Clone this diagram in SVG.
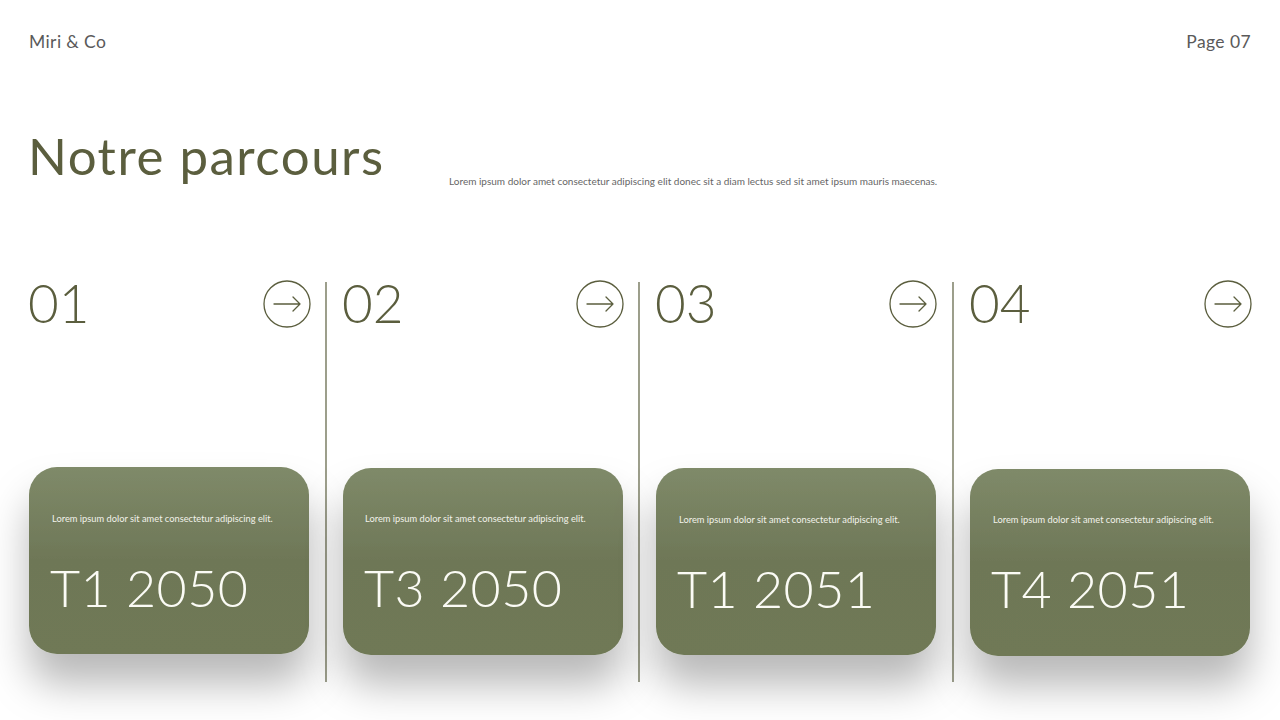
<svg xmlns="http://www.w3.org/2000/svg" width="1280" height="720" viewBox="0 0 1280 720">
<defs>
<style>
text{font-family:"Lato","Open Sans","Liberation Sans",sans-serif}
.hdr{font-size:17.5px;fill:#5a5a5a;font-weight:400;letter-spacing:0.4px}
.title{font-size:51px;fill:#5b5e3e;font-weight:400;letter-spacing:1.5px}
.sub{font-size:10px;fill:#666666}
.num{font-size:53px;fill:#5b5e3e;font-weight:300}
.small{font-size:9.3px;fill:#f2f2ea}
.big{font-size:52px;fill:#fbfbf5;font-weight:300;letter-spacing:0.5px}
.card{fill:url(#g)}
.ring{fill:none;stroke:#5b5e3e;stroke-width:1.3}
.arr{fill:none;stroke:#5b5e3e;stroke-width:1.3;stroke-linecap:round;stroke-linejoin:round}
.div{stroke:#5b5e3e;stroke-width:1.2}
</style>
<linearGradient id="g" x1="0" y1="0" x2="0" y2="1">
<stop offset="0" stop-color="#7f8a69"/>
<stop offset="0.5" stop-color="#6e7757"/>
<stop offset="1" stop-color="#6f7957"/>
</linearGradient>
<filter id="sh" x="-30%" y="-30%" width="160%" height="180%">
<feDropShadow dx="0" dy="30" stdDeviation="20" flood-color="#000" flood-opacity="0.28"/>
</filter>
</defs>
<rect width="1280" height="720" fill="#ffffff"/>
<text class="hdr" x="29" y="48">Miri &amp; Co</text>
<text class="hdr" x="1251" y="48" text-anchor="end">Page 07</text>
<text class="title" x="28" y="175">Notre parcours</text>
<text class="sub" x="449" y="185">Lorem ipsum dolor amet consectetur adipiscing elit donec  sit a diam lectus sed sit amet ipsum mauris maecenas.</text>
<g id="connectors">
<line class="div" x1="326" y1="282" x2="326" y2="682"/>
<line class="div" x1="639" y1="282" x2="639" y2="682"/>
<line class="div" x1="953" y1="282" x2="953" y2="682"/>
</g>
<g id="step1">
<text class="num" x="28" y="323">01</text>
<circle class="ring" cx="287" cy="304" r="23"/>
<path class="arr" d="M274 304H300M293 297L300 304L293 311"/>
<rect class="card" x="29" y="467" width="280" height="187" rx="28" filter="url(#sh)"/>
<text class="small" x="52" y="522">Lorem ipsum dolor sit amet consectetur adipiscing elit.</text>
<text class="big" x="50" y="607">T1 2050</text>
</g>
<g id="step2">
<text class="num" x="342" y="323">02</text>
<circle class="ring" cx="600" cy="304" r="23"/>
<path class="arr" d="M587 304H613M606 297L613 304L606 311"/>
<rect class="card" x="343" y="468" width="280" height="187" rx="28" filter="url(#sh)"/>
<text class="small" x="365" y="522">Lorem ipsum dolor sit amet consectetur adipiscing elit.</text>
<text class="big" x="364" y="607">T3 2050</text>
</g>
<g id="step3">
<text class="num" x="655" y="323">03</text>
<circle class="ring" cx="913" cy="304" r="23"/>
<path class="arr" d="M900 304H926M919 297L926 304L919 311"/>
<rect class="card" x="656" y="468" width="280" height="187" rx="28" filter="url(#sh)"/>
<text class="small" x="679" y="523">Lorem ipsum dolor sit amet consectetur adipiscing elit.</text>
<text class="big" x="677" y="608">T1 2051</text>
</g>
<g id="step4">
<text class="num" x="969" y="323">04</text>
<circle class="ring" cx="1228" cy="304" r="23"/>
<path class="arr" d="M1215 304H1241M1234 297L1241 304L1234 311"/>
<rect class="card" x="970" y="469" width="280" height="187" rx="28" filter="url(#sh)"/>
<text class="small" x="993" y="523">Lorem ipsum dolor sit amet consectetur adipiscing elit.</text>
<text class="big" x="991" y="608">T4 2051</text>
</g>
</svg>
